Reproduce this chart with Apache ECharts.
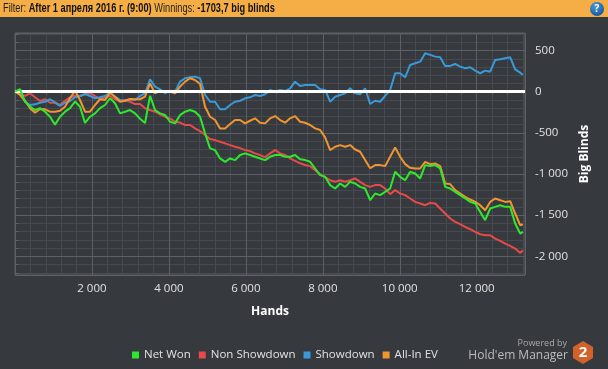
<!DOCTYPE html>
<html><head><meta charset="utf-8">
<script src="https://cdn.jsdelivr.net/npm/echarts@6/dist/echarts.min.js"></script>
<style>html,body{margin:0;padding:0;background:#36393d;overflow:hidden}#c{width:608px;height:369px}</style>
</head><body><div id="c"></div>
<script>
const hands = [0,130,260,390,520,650,780,910,1040,1170,1300,1430,1560,1690,1820,1950,2080,2210,2340,2470,2600,2730,2860,2990,3120,3250,3380,3510,3640,3770,3900,4030,4160,4290,4420,4550,4680,4810,4940,5070,5200,5330,5460,5590,5720,5850,5980,6110,6240,6370,6500,6630,6760,6890,7020,7150,7280,7410,7540,7670,7800,7930,8060,8190,8320,8450,8580,8710,8840,8970,9100,9230,9360,9490,9620,9750,9880,10010,10140,10270,10400,10530,10660,10790,10920,11050,11180,11310,11440,11570,11700,11830,11960,12090,12220,12350,12480,12610,12740,12870,13000,13130,13200];
const netWon = [0,30,-120,-180,-223,-200,-243,-304,-400,-304,
-243,-200,-120,-183,-380,-304,-263,-200,-162,-80,
-141,-263,-243,-223,-263,-330,-380,-50,-223,-263,
-284,-365,-385,-284,-243,-223,-243,-304,-506,-689,
-710,-811,-852,-811,-831,-770,-750,-770,-791,-811,
-831,-791,-770,-770,-791,-791,-770,-820,-831,-852,
-933,-1014,-1034,-1135,-1176,-1115,-1156,-1095,-1115,-1156,
-1176,-1318,-1237,-1257,-1217,-1176,-973,-1034,-1075,-973,
-993,-1054,-892,-904,-892,-933,-1156,-1176,-1217,-1257,
-1298,-1339,-1359,-1460,-1561,-1419,-1399,-1379,-1399,-1399,
-1602,-1723,-1703.7];
const nonShowdown = [0,-20,-52,-20,-68,-113,-92,-134,-134,-162,
-110,-68,-49,-52,-32,-20,-52,-92,-68,-52,
-92,-113,-101,-122,-150,-150,-202,-223,-243,-274,
-304,-324,-365,-375,-405,-405,-446,-478,-527,-576,
-588,-608,-628,-649,-669,-685,-710,-722,-750,-770,
-795,-750,-710,-750,-770,-811,-840,-870,-890,-904,
-953,-1002,-1042,-1075,-1095,-1075,-1095,-1075,-1054,-1095,
-1135,-1156,-1135,-1135,-1176,-1245,-1196,-1237,-1257,-1298,
-1339,-1359,-1379,-1351,-1359,-1419,-1480,-1541,-1582,-1610,
-1643,-1671,-1703,-1732,-1744,-1744,-1785,-1813,-1846,-1874,
-1906,-1959,-1927];
const showdown = [0,8,-122,-162,-154,-134,-122,-92,-130,-174,
-134,-113,-68,-52,-28,-52,-80,-68,-52,-12,
-61,-101,-110,-92,-101,-52,-20,150,61,29,
-20,12,0,122,163,175,183,163,-40,-122,
-122,-214,-214,-162,-122,-110,-80,-68,-40,-52,
-32,21,0,21,8,41,122,69,82,82,
82,29,21,-122,-61,-40,-20,41,-20,-32,
41,-150,-110,-122,-52,21,224,224,175,325,
345,365,467,447,426,418,313,313,337,304,
284,297,256,224,256,243,386,394,406,418,
272,231,203];
const allInEV = [0,-40,-110,-202,-255,-210,-214,-243,-243,-231,
-182,-80,12,-101,-243,-243,-162,-92,-101,-12,
-61,-122,-110,-89,-92,-92,-61,100,-20,12,
0,0,-20,61,122,163,142,94,-183,-304,
-344,-446,-446,-393,-344,-344,-385,-353,-324,-377,
-385,-324,-296,-344,-377,-324,-296,-365,-377,-405,
-446,-466,-555,-710,-669,-649,-669,-649,-702,-730,
-831,-930,-892,-892,-904,-791,-677,-791,-880,-925,
-933,-933,-852,-880,-872,-904,-1115,-1123,-1196,-1237,
-1278,-1310,-1339,-1379,-1440,-1339,-1298,-1318,-1339,-1330,
-1480,-1622,-1610];
const seriesNames = ['Net Won','Non Showdown','Showdown','All-In EV'];
const seriesColors = ['#2ee82e','#e84a4a','#3a9ad9','#f0952f'];

const FONT = 'Open Sans';
const HEAD = '"Liberation Sans", Arial, sans-serif';
const fmt = v => { const s = Math.abs(Math.round(v)).toString().replace(/\B(?=(\d{3})+(?!\d))/g,' '); return (v<0?'-':'')+s; };
const pairs = arr => hands.map((h,i)=>[h,arr[i]]);
const major = '#5d6064', minor = '#46494d';

const chart = echarts.init(document.getElementById('c'), null, {renderer:'canvas'});
const mk = (i, arr, z) => ({
  name: seriesNames[i], type:'line', data: pairs(arr), xAxisIndex:0, yAxisIndex:0,
  showSymbol:false, symbol:'none', z: z, lineStyle:{width:2, color:seriesColors[i]}, itemStyle:{color:seriesColors[i]},
  animation:false
});
const green = mk(0, netWon, 5);
green.markLine = {silent:true, symbol:'none', label:{show:false}, lineStyle:{color:'#ffffff', width:3, type:'solid'}, data:[{yAxis:0}], animation:false};

chart.setOption({
  backgroundColor:'#36393d',
  animation:false,
  textStyle:{fontFamily:FONT},
  grid:{left:15, right:83, top:33, bottom:94, show:true, borderColor:major, borderWidth:1, backgroundColor:'transparent'},
  legend:{
    data:seriesNames.map((n,i)=>({name:n, icon:'rect', itemStyle:{color:seriesColors[i]}})),
    left:132, top:349, itemWidth:7, itemHeight:7, itemGap:8, padding:0,
    textStyle:{color:'#e2e2e2', fontSize:11.5, fontFamily:FONT}, selectedMode:false
  },
  xAxis:[
    {type:'value', min:0, max:13255, interval:2000, position:'bottom', z:1,
     name:'Hands', nameLocation:'middle', nameGap:31,
     nameTextStyle:{color:'#ffffff', fontWeight:'bold', fontSize:12, fontFamily:FONT},
     axisLine:{show:false}, axisTick:{show:false},
     axisLabel:{color:'#e2e2e2', fontSize:11.5, margin:8, fontFamily:FONT, formatter:v=> (v>0 && v%2000===0)? fmt(v):''},
     splitLine:{show:true, lineStyle:{color:major, width:1}}},
    {type:'value', min:0, max:13255, interval:400, position:'bottom', z:0,
     axisLine:{show:false}, axisTick:{show:true, length:3, lineStyle:{color:major}},
     axisLabel:{show:false}, splitLine:{show:true, lineStyle:{color:minor, width:1}}}
  ],
  yAxis:[
    {type:'value', min:-2227, max:713, splitNumber:6, position:'right', z:1,
     name:'Big Blinds', nameLocation:'middle', nameGap:54, nameRotate:90,
     nameTextStyle:{color:'#ffffff', fontWeight:'bold', fontSize:12, fontFamily:FONT},
     axisLine:{show:false}, axisTick:{show:false},
     axisLabel:{color:'#e2e2e2', fontSize:11.5, margin:10, fontFamily:FONT, formatter:v=> (Math.round(v)%500===0)? fmt(v):''},
     splitLine:{show:true, lineStyle:{color:major, width:1}}},
    {type:'value', min:-2227, max:713, splitNumber:30, position:'right', z:0,
     axisLine:{show:false}, axisTick:{show:true, length:4, lineStyle:{color:major}},
     axisLabel:{show:false}, splitLine:{show:true, lineStyle:{color:minor, width:1}}}
  ],
  series:[ mk(1, nonShowdown, 2), mk(2, showdown, 3), mk(3, allInEV, 4), green ],
  graphic:[
    {type:'rect', left:0, top:0, z:-10, shape:{width:608, height:17}, style:{fill:'#f5ae46'}},
    {type:'text', x:3, y:9, z:11, scaleX:0.77, originX:0,
     style:{text:'{n|Filter:} {b|After 1 апреля 2016 г. (9:00)} {n|Winnings:} {b|-1703,7 big blinds}',
       verticalAlign:'middle', align:'left',
       rich:{ n:{fontFamily:HEAD, fontSize:12, fill:'#1d1d1d'}, b:{fontFamily:HEAD, fontSize:12, fontWeight:'bold', fill:'#111'} }}},
    {type:'circle', shape:{cx:597, cy:9, r:7}, z:10, style:{fill:new echarts.graphic.RadialGradient(0.4,0.3,0.8,[{offset:0,color:'#4a9be0'},{offset:1,color:'#0e4f93'}])}},
    {type:'text', x:597, y:9, z:11, style:{text:'?', fill:'#fff', font:'bold 10px '+FONT, align:'center', verticalAlign:'middle'}},
    {type:'text', x:567, y:343, z:10, style:{text:'Powered by', fill:'#a9a9a9', font:'9px '+FONT, align:'right', verticalAlign:'middle'}},
    {type:'text', x:568, y:356, z:10, style:{text:"Hold'em Manager", fill:'#bcbcbc', font:'12px '+FONT, align:'right', verticalAlign:'middle'}},
    {type:'polygon', z:10, shape:{points:[[583,341],[593,347],[593,358],[583,364],[573,358],[573,347]]}, style:{fill:'#d2622a'}},
    {type:'text', x:583, y:353, z:11, style:{text:'2', fill:'#fff', font:'bold 15px '+FONT, align:'center', verticalAlign:'middle'}}
  ]
});
</script></body></html>
